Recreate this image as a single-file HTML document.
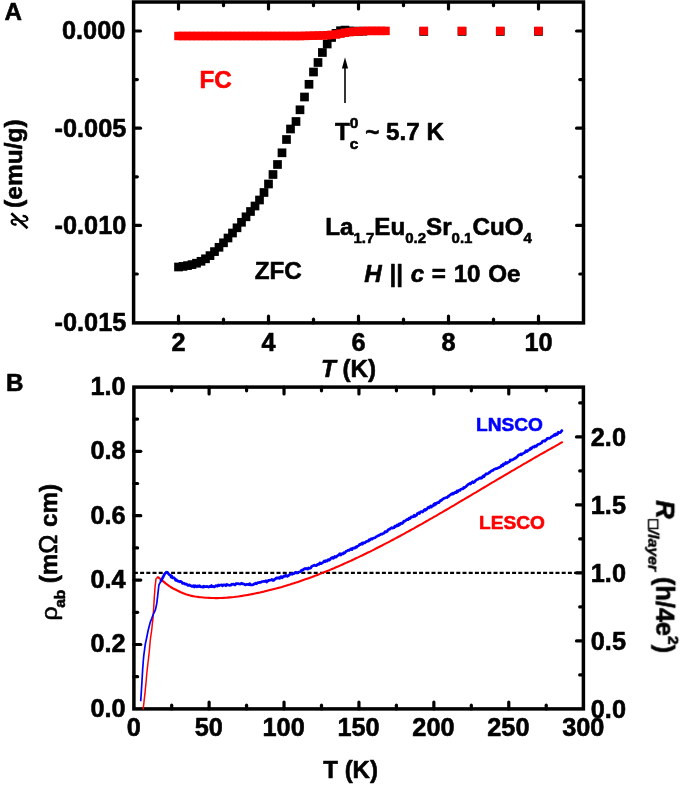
<!DOCTYPE html>
<html><head><meta charset="utf-8"><title>Figure</title>
<style>html,body{margin:0;padding:0;background:#fff;}svg{display:block;}text{font-family:"Liberation Sans",sans-serif;stroke-width:0.6px;stroke-linejoin:round;}</style></head><body>
<svg width="680" height="785" viewBox="0 0 680 785" role="img" aria-label="Susceptibility and resistivity figure">
<rect x="0" y="0" width="680" height="785" fill="#fff"/>
<g opacity="0.9999">
<g fill="#000"><rect x="174.15" y="262.65" width="8.7" height="8.7"/><rect x="178.65" y="262.05" width="8.7" height="8.7"/><rect x="183.15" y="261.25" width="8.7" height="8.7"/><rect x="187.65" y="260.25" width="8.7" height="8.7"/><rect x="192.15" y="258.85" width="8.7" height="8.7"/><rect x="196.65" y="256.95" width="8.7" height="8.7"/><rect x="201.15" y="254.45" width="8.7" height="8.7"/><rect x="205.65" y="251.25" width="8.7" height="8.7"/><rect x="210.15" y="247.25" width="8.7" height="8.7"/><rect x="214.65" y="242.95" width="8.7" height="8.7"/><rect x="219.15" y="238.45" width="8.7" height="8.7"/><rect x="223.65" y="233.65" width="8.7" height="8.7"/><rect x="228.15" y="228.65" width="8.7" height="8.7"/><rect x="232.65" y="223.45" width="8.7" height="8.7"/><rect x="237.15" y="217.95" width="8.7" height="8.7"/><rect x="241.65" y="212.45" width="8.7" height="8.7"/><rect x="246.15" y="207.15" width="8.7" height="8.7"/><rect x="250.65" y="201.65" width="8.7" height="8.7"/><rect x="255.15" y="195.65" width="8.7" height="8.7"/><rect x="259.65" y="188.15" width="8.7" height="8.7"/><rect x="264.15" y="179.65" width="8.7" height="8.7"/><rect x="268.65" y="170.15" width="8.7" height="8.7"/><rect x="273.15" y="160.15" width="8.7" height="8.7"/><rect x="277.65" y="148.45" width="8.7" height="8.7"/><rect x="282.15" y="135.15" width="8.7" height="8.7"/><rect x="286.15" y="124.65" width="8.7" height="8.7"/><rect x="291.65" y="117.15" width="8.7" height="8.7"/><rect x="295.65" y="105.45" width="8.7" height="8.7"/><rect x="300.15" y="92.65" width="8.7" height="8.7"/><rect x="304.65" y="79.95" width="8.7" height="8.7"/><rect x="309.15" y="67.65" width="8.7" height="8.7"/><rect x="313.65" y="58.15" width="8.7" height="8.7"/><rect x="318.05" y="48.15" width="8.7" height="8.7"/><rect x="322.85" y="39.65" width="8.7" height="8.7"/><rect x="327.25" y="33.15" width="8.7" height="8.7"/><rect x="331.65" y="29.05" width="8.7" height="8.7"/><rect x="336.15" y="26.35" width="8.7" height="8.7"/><rect x="340.65" y="25.75" width="8.7" height="8.7"/><rect x="345.15" y="26.65" width="8.7" height="8.7"/><rect x="349.65" y="26.85" width="8.7" height="8.7"/><rect x="354.15" y="26.85" width="8.7" height="8.7"/><rect x="358.65" y="26.85" width="8.7" height="8.7"/><rect x="419.40" y="27.10" width="8.7" height="8.7"/><rect x="457.65" y="27.10" width="8.7" height="8.7"/><rect x="495.90" y="27.10" width="8.7" height="8.7"/><rect x="534.15" y="27.10" width="8.7" height="8.7"/></g>
<g fill="#ff0000"><rect x="174.25" y="31.75" width="8.5" height="8.5"/><rect x="178.75" y="31.75" width="8.5" height="8.5"/><rect x="183.25" y="31.75" width="8.5" height="8.5"/><rect x="187.75" y="31.75" width="8.5" height="8.5"/><rect x="192.25" y="31.75" width="8.5" height="8.5"/><rect x="196.75" y="31.75" width="8.5" height="8.5"/><rect x="201.25" y="31.75" width="8.5" height="8.5"/><rect x="205.75" y="31.75" width="8.5" height="8.5"/><rect x="210.25" y="31.75" width="8.5" height="8.5"/><rect x="214.75" y="31.75" width="8.5" height="8.5"/><rect x="219.25" y="31.75" width="8.5" height="8.5"/><rect x="223.75" y="31.75" width="8.5" height="8.5"/><rect x="228.25" y="31.75" width="8.5" height="8.5"/><rect x="232.75" y="31.75" width="8.5" height="8.5"/><rect x="237.25" y="31.75" width="8.5" height="8.5"/><rect x="241.75" y="31.75" width="8.5" height="8.5"/><rect x="246.25" y="31.75" width="8.5" height="8.5"/><rect x="250.75" y="31.75" width="8.5" height="8.5"/><rect x="255.25" y="31.75" width="8.5" height="8.5"/><rect x="259.75" y="31.75" width="8.5" height="8.5"/><rect x="264.25" y="31.75" width="8.5" height="8.5"/><rect x="268.75" y="31.75" width="8.5" height="8.5"/><rect x="273.25" y="31.75" width="8.5" height="8.5"/><rect x="277.75" y="31.75" width="8.5" height="8.5"/><rect x="282.25" y="31.75" width="8.5" height="8.5"/><rect x="286.75" y="31.75" width="8.5" height="8.5"/><rect x="291.25" y="31.75" width="8.5" height="8.5"/><rect x="295.75" y="31.75" width="8.5" height="8.5"/><rect x="300.25" y="31.64" width="8.5" height="8.5"/><rect x="304.75" y="31.53" width="8.5" height="8.5"/><rect x="309.25" y="31.42" width="8.5" height="8.5"/><rect x="313.75" y="31.31" width="8.5" height="8.5"/><rect x="318.25" y="31.20" width="8.5" height="8.5"/><rect x="322.75" y="30.97" width="8.5" height="8.5"/><rect x="327.25" y="30.61" width="8.5" height="8.5"/><rect x="331.75" y="30.25" width="8.5" height="8.5"/><rect x="336.25" y="29.38" width="8.5" height="8.5"/><rect x="340.75" y="28.50" width="8.5" height="8.5"/><rect x="345.25" y="27.86" width="8.5" height="8.5"/><rect x="349.75" y="27.39" width="8.5" height="8.5"/><rect x="354.25" y="27.05" width="8.5" height="8.5"/><rect x="358.75" y="26.85" width="8.5" height="8.5"/><rect x="363.25" y="26.65" width="8.5" height="8.5"/><rect x="367.75" y="26.65" width="8.5" height="8.5"/><rect x="372.25" y="26.65" width="8.5" height="8.5"/><rect x="376.75" y="26.65" width="8.5" height="8.5"/><rect x="381.25" y="26.65" width="8.5" height="8.5"/><rect x="419.50" y="26.65" width="8.5" height="8.5"/><rect x="457.75" y="26.65" width="8.5" height="8.5"/><rect x="496.00" y="26.65" width="8.5" height="8.5"/><rect x="534.25" y="26.65" width="8.5" height="8.5"/></g>
<rect x="133.6" y="2.0" width="449.9" height="320.9" fill="none" stroke="#000" stroke-width="3.5"/>
<line x1="178.50" y1="322.90" x2="178.50" y2="316.00" stroke="#000" stroke-width="3.2" stroke-linecap="round"/>
<line x1="178.50" y1="2.00" x2="178.50" y2="8.90" stroke="#000" stroke-width="3.2" stroke-linecap="round"/>
<line x1="223.50" y1="322.90" x2="223.50" y2="319.20" stroke="#000" stroke-width="3.2" stroke-linecap="round"/>
<line x1="223.50" y1="2.00" x2="223.50" y2="5.70" stroke="#000" stroke-width="3.2" stroke-linecap="round"/>
<line x1="268.50" y1="322.90" x2="268.50" y2="316.00" stroke="#000" stroke-width="3.2" stroke-linecap="round"/>
<line x1="268.50" y1="2.00" x2="268.50" y2="8.90" stroke="#000" stroke-width="3.2" stroke-linecap="round"/>
<line x1="313.50" y1="322.90" x2="313.50" y2="319.20" stroke="#000" stroke-width="3.2" stroke-linecap="round"/>
<line x1="313.50" y1="2.00" x2="313.50" y2="5.70" stroke="#000" stroke-width="3.2" stroke-linecap="round"/>
<line x1="358.50" y1="322.90" x2="358.50" y2="316.00" stroke="#000" stroke-width="3.2" stroke-linecap="round"/>
<line x1="358.50" y1="2.00" x2="358.50" y2="8.90" stroke="#000" stroke-width="3.2" stroke-linecap="round"/>
<line x1="403.50" y1="322.90" x2="403.50" y2="319.20" stroke="#000" stroke-width="3.2" stroke-linecap="round"/>
<line x1="403.50" y1="2.00" x2="403.50" y2="5.70" stroke="#000" stroke-width="3.2" stroke-linecap="round"/>
<line x1="448.50" y1="322.90" x2="448.50" y2="316.00" stroke="#000" stroke-width="3.2" stroke-linecap="round"/>
<line x1="448.50" y1="2.00" x2="448.50" y2="8.90" stroke="#000" stroke-width="3.2" stroke-linecap="round"/>
<line x1="493.50" y1="322.90" x2="493.50" y2="319.20" stroke="#000" stroke-width="3.2" stroke-linecap="round"/>
<line x1="493.50" y1="2.00" x2="493.50" y2="5.70" stroke="#000" stroke-width="3.2" stroke-linecap="round"/>
<line x1="538.50" y1="322.90" x2="538.50" y2="316.00" stroke="#000" stroke-width="3.2" stroke-linecap="round"/>
<line x1="538.50" y1="2.00" x2="538.50" y2="8.90" stroke="#000" stroke-width="3.2" stroke-linecap="round"/>
<line x1="133.60" y1="31.00" x2="140.50" y2="31.00" stroke="#000" stroke-width="3.2" stroke-linecap="round"/>
<line x1="583.50" y1="31.00" x2="576.60" y2="31.00" stroke="#000" stroke-width="3.2" stroke-linecap="round"/>
<line x1="133.60" y1="79.60" x2="137.30" y2="79.60" stroke="#000" stroke-width="3.2" stroke-linecap="round"/>
<line x1="583.50" y1="79.60" x2="579.80" y2="79.60" stroke="#000" stroke-width="3.2" stroke-linecap="round"/>
<line x1="133.60" y1="128.20" x2="140.50" y2="128.20" stroke="#000" stroke-width="3.2" stroke-linecap="round"/>
<line x1="583.50" y1="128.20" x2="576.60" y2="128.20" stroke="#000" stroke-width="3.2" stroke-linecap="round"/>
<line x1="133.60" y1="176.80" x2="137.30" y2="176.80" stroke="#000" stroke-width="3.2" stroke-linecap="round"/>
<line x1="583.50" y1="176.80" x2="579.80" y2="176.80" stroke="#000" stroke-width="3.2" stroke-linecap="round"/>
<line x1="133.60" y1="225.40" x2="140.50" y2="225.40" stroke="#000" stroke-width="3.2" stroke-linecap="round"/>
<line x1="583.50" y1="225.40" x2="576.60" y2="225.40" stroke="#000" stroke-width="3.2" stroke-linecap="round"/>
<line x1="133.60" y1="274.00" x2="137.30" y2="274.00" stroke="#000" stroke-width="3.2" stroke-linecap="round"/>
<line x1="583.50" y1="274.00" x2="579.80" y2="274.00" stroke="#000" stroke-width="3.2" stroke-linecap="round"/>
<text x="178.50" y="350.50" font-family='"Liberation Sans", sans-serif' font-size="25.3" font-weight="bold" font-style="normal" text-anchor="middle" fill="#000" stroke="#000" >2</text>
<text x="268.50" y="350.50" font-family='"Liberation Sans", sans-serif' font-size="25.3" font-weight="bold" font-style="normal" text-anchor="middle" fill="#000" stroke="#000" >4</text>
<text x="358.50" y="350.50" font-family='"Liberation Sans", sans-serif' font-size="25.3" font-weight="bold" font-style="normal" text-anchor="middle" fill="#000" stroke="#000" >6</text>
<text x="448.50" y="350.50" font-family='"Liberation Sans", sans-serif' font-size="25.3" font-weight="bold" font-style="normal" text-anchor="middle" fill="#000" stroke="#000" >8</text>
<text x="538.50" y="350.50" font-family='"Liberation Sans", sans-serif' font-size="25.3" font-weight="bold" font-style="normal" text-anchor="middle" fill="#000" stroke="#000" >10</text>
<text x="125.30" y="38.70" font-family='"Liberation Sans", sans-serif' font-size="25.3" font-weight="bold" font-style="normal" text-anchor="end" fill="#000" stroke="#000" >0.000</text>
<text x="126.30" y="136.60" font-family='"Liberation Sans", sans-serif' font-size="25.3" font-weight="bold" font-style="normal" text-anchor="end" fill="#000" stroke="#000" >-0.005</text>
<text x="126.30" y="233.80" font-family='"Liberation Sans", sans-serif' font-size="25.3" font-weight="bold" font-style="normal" text-anchor="end" fill="#000" stroke="#000" >-0.010</text>
<text x="126.30" y="331.00" font-family='"Liberation Sans", sans-serif' font-size="25.3" font-weight="bold" font-style="normal" text-anchor="end" fill="#000" stroke="#000" >-0.015</text>
<text x="4.40" y="20.40" font-family='"Liberation Sans", sans-serif' font-size="24.2" font-weight="bold" font-style="normal" text-anchor="start" fill="#000" stroke="#000" >A</text>
<text x="199.50" y="87.60" font-family='"Liberation Sans", sans-serif' font-size="24.2" font-weight="bold" font-style="normal" text-anchor="start" fill="#ff0000" stroke="#ff0000" >FC</text>
<text x="254.80" y="278.60" font-family='"Liberation Sans", sans-serif' font-size="24.2" font-weight="bold" font-style="normal" text-anchor="start" fill="#000" stroke="#000" >ZFC</text>
<line x1="345.00" y1="103.00" x2="345.00" y2="64.00" stroke="#000" stroke-width="1.6" />
<path d="M345 57.2 L348.1 68.5 L341.9 68.5 Z" fill="#000"/>
<text x="335.0" y="140.2" font-size="24.2" font-weight="bold" fill="#000" stroke="#000" word-spacing="0.1">T<tspan font-size="15.5" dy="-12.6">0</tspan><tspan font-size="15.5" dx="-8.7" dy="21.4">c</tspan><tspan dy="-8.8"> ~ 5.7 K</tspan></text>
<text x="325.2" y="235.4" font-size="24.2" font-weight="bold" fill="#000" stroke="#000">La<tspan font-size="15" dy="7.6">1.7</tspan><tspan dy="-7.6">Eu</tspan><tspan font-size="15" dy="7.6">0.2</tspan><tspan dy="-7.6">Sr</tspan><tspan font-size="15" dy="7.6">0.1</tspan><tspan dy="-7.6">CuO</tspan><tspan font-size="15" dy="7.6">4</tspan></text>
<text x="364.2" y="282.0" font-size="24.2" font-weight="bold" fill="#000" stroke="#000" word-spacing="1.0"><tspan font-style="italic">H</tspan> || <tspan font-style="italic">c</tspan> = 10 Oe</text>
<text x="320.9" y="376.5" font-size="24.2" font-weight="bold" fill="#000" stroke="#000"><tspan font-style="italic">T</tspan> (K)</text>
<g transform="translate(22.3,207.9) rotate(-90)"><text x="0" y="0" font-size="24.5" font-weight="bold" fill="#000" stroke="#000" text-anchor="start">(emu/g)</text></g>
<g><title>χ</title>
<path d="M11.3 213.3 L27.5 228.3" stroke="#000" stroke-width="2.7" fill="none"/>
<path d="M15.6 224.5 C13.2 225.0 10.8 222.6 11.9 220.6 C12.9 218.9 15.2 219.5 19.4 220.6 C23.2 221.6 26.3 221.9 27.2 219.8 C28.0 217.9 26.0 216.3 23.6 216.0" stroke="#000" stroke-width="1.5" stroke-linecap="round" fill="none"/>
<path d="M15.6 224.5 C13.2 225.0 10.8 222.6 11.9 220.6" stroke="#000" stroke-width="2.3" stroke-linecap="round" fill="none"/>
<path d="M27.2 219.8 C28.0 217.9 26.0 216.3 23.6 216.0" stroke="#000" stroke-width="2.3" stroke-linecap="round" fill="none"/>
</g>
<line x1="133.90" y1="572.90" x2="583.40" y2="572.90" stroke="#000" stroke-width="2.2" stroke-dasharray="4 2.2"/>
<rect x="133.9" y="387.1" width="449.5" height="321.79999999999995" fill="none" stroke="#000" stroke-width="3.5"/>
<line x1="171.66" y1="708.90" x2="171.66" y2="705.20" stroke="#000" stroke-width="3.2" stroke-linecap="round"/>
<line x1="171.66" y1="387.10" x2="171.66" y2="390.80" stroke="#000" stroke-width="3.2" stroke-linecap="round"/>
<line x1="209.11" y1="708.90" x2="209.11" y2="702.00" stroke="#000" stroke-width="3.2" stroke-linecap="round"/>
<line x1="209.11" y1="387.10" x2="209.11" y2="394.00" stroke="#000" stroke-width="3.2" stroke-linecap="round"/>
<line x1="246.57" y1="708.90" x2="246.57" y2="705.20" stroke="#000" stroke-width="3.2" stroke-linecap="round"/>
<line x1="246.57" y1="387.10" x2="246.57" y2="390.80" stroke="#000" stroke-width="3.2" stroke-linecap="round"/>
<line x1="284.03" y1="708.90" x2="284.03" y2="702.00" stroke="#000" stroke-width="3.2" stroke-linecap="round"/>
<line x1="284.03" y1="387.10" x2="284.03" y2="394.00" stroke="#000" stroke-width="3.2" stroke-linecap="round"/>
<line x1="321.49" y1="708.90" x2="321.49" y2="705.20" stroke="#000" stroke-width="3.2" stroke-linecap="round"/>
<line x1="321.49" y1="387.10" x2="321.49" y2="390.80" stroke="#000" stroke-width="3.2" stroke-linecap="round"/>
<line x1="358.94" y1="708.90" x2="358.94" y2="702.00" stroke="#000" stroke-width="3.2" stroke-linecap="round"/>
<line x1="358.94" y1="387.10" x2="358.94" y2="394.00" stroke="#000" stroke-width="3.2" stroke-linecap="round"/>
<line x1="396.40" y1="708.90" x2="396.40" y2="705.20" stroke="#000" stroke-width="3.2" stroke-linecap="round"/>
<line x1="396.40" y1="387.10" x2="396.40" y2="390.80" stroke="#000" stroke-width="3.2" stroke-linecap="round"/>
<line x1="433.86" y1="708.90" x2="433.86" y2="702.00" stroke="#000" stroke-width="3.2" stroke-linecap="round"/>
<line x1="433.86" y1="387.10" x2="433.86" y2="394.00" stroke="#000" stroke-width="3.2" stroke-linecap="round"/>
<line x1="471.32" y1="708.90" x2="471.32" y2="705.20" stroke="#000" stroke-width="3.2" stroke-linecap="round"/>
<line x1="471.32" y1="387.10" x2="471.32" y2="390.80" stroke="#000" stroke-width="3.2" stroke-linecap="round"/>
<line x1="508.77" y1="708.90" x2="508.77" y2="702.00" stroke="#000" stroke-width="3.2" stroke-linecap="round"/>
<line x1="508.77" y1="387.10" x2="508.77" y2="394.00" stroke="#000" stroke-width="3.2" stroke-linecap="round"/>
<line x1="546.23" y1="708.90" x2="546.23" y2="705.20" stroke="#000" stroke-width="3.2" stroke-linecap="round"/>
<line x1="546.23" y1="387.10" x2="546.23" y2="390.80" stroke="#000" stroke-width="3.2" stroke-linecap="round"/>
<line x1="133.90" y1="676.70" x2="137.60" y2="676.70" stroke="#000" stroke-width="3.2" stroke-linecap="round"/>
<line x1="133.90" y1="644.50" x2="140.80" y2="644.50" stroke="#000" stroke-width="3.2" stroke-linecap="round"/>
<line x1="133.90" y1="612.30" x2="137.60" y2="612.30" stroke="#000" stroke-width="3.2" stroke-linecap="round"/>
<line x1="133.90" y1="580.10" x2="140.80" y2="580.10" stroke="#000" stroke-width="3.2" stroke-linecap="round"/>
<line x1="133.90" y1="547.90" x2="137.60" y2="547.90" stroke="#000" stroke-width="3.2" stroke-linecap="round"/>
<line x1="133.90" y1="515.70" x2="140.80" y2="515.70" stroke="#000" stroke-width="3.2" stroke-linecap="round"/>
<line x1="133.90" y1="483.50" x2="137.60" y2="483.50" stroke="#000" stroke-width="3.2" stroke-linecap="round"/>
<line x1="133.90" y1="451.30" x2="140.80" y2="451.30" stroke="#000" stroke-width="3.2" stroke-linecap="round"/>
<line x1="133.90" y1="419.10" x2="137.60" y2="419.10" stroke="#000" stroke-width="3.2" stroke-linecap="round"/>
<line x1="583.40" y1="674.90" x2="579.70" y2="674.90" stroke="#000" stroke-width="3.2" stroke-linecap="round"/>
<line x1="583.40" y1="640.90" x2="576.50" y2="640.90" stroke="#000" stroke-width="3.2" stroke-linecap="round"/>
<line x1="583.40" y1="606.90" x2="579.70" y2="606.90" stroke="#000" stroke-width="3.2" stroke-linecap="round"/>
<line x1="583.40" y1="572.90" x2="576.50" y2="572.90" stroke="#000" stroke-width="3.2" stroke-linecap="round"/>
<line x1="583.40" y1="538.90" x2="579.70" y2="538.90" stroke="#000" stroke-width="3.2" stroke-linecap="round"/>
<line x1="583.40" y1="504.90" x2="576.50" y2="504.90" stroke="#000" stroke-width="3.2" stroke-linecap="round"/>
<line x1="583.40" y1="470.90" x2="579.70" y2="470.90" stroke="#000" stroke-width="3.2" stroke-linecap="round"/>
<line x1="583.40" y1="436.90" x2="576.50" y2="436.90" stroke="#000" stroke-width="3.2" stroke-linecap="round"/>
<line x1="583.40" y1="402.90" x2="579.70" y2="402.90" stroke="#000" stroke-width="3.2" stroke-linecap="round"/>
<path d="M143.2 709.4 L143.5 706.2 L143.9 702.9 L144.2 699.7 L144.6 696.5 L145.0 693.2 L145.3 690.0 L145.6 686.9 L145.9 683.9 L146.2 680.8 L146.4 677.8 L146.7 674.7 L147.0 671.7 L147.3 668.6 L147.7 665.5 L148.0 662.5 L148.4 659.5 L148.7 656.4 L149.1 653.3 L149.4 650.3 L149.7 646.9 L150.0 643.4 L150.3 640.0 L150.8 636.4 L151.3 632.9 L151.8 629.3 L152.1 626.2 L152.4 623.1 L152.8 620.1 L153.1 617.0 L153.3 613.3 L153.6 609.5 L153.8 605.8 L154.0 602.4 L154.2 599.1 L154.4 595.7 L154.7 592.3 L154.9 588.9 L155.2 585.5 L155.6 582.5 L155.9 579.4 L156.9 577.5" fill="none" stroke="#ff0000" stroke-width="1.5" stroke-linejoin="round"/>
<path d="M156.9 577.5 L157.9 577.3 L158.9 577.8 L161.5 579.9 L163.6 581.6 L165.6 583.4 L167.3 584.6 L169.0 585.8 L170.7 587.0 L173.2 588.5 L175.9 589.8 L178.3 591.0 L180.8 592.2 L183.3 593.3 L185.8 594.2 L188.2 594.9 L190.5 595.6 L192.8 596.1 L195.0 596.5 L197.1 596.8 L199.2 597.1 L201.2 597.3 L203.3 597.5 L205.4 597.7 L207.4 597.8 L209.5 597.9 L211.5 598.0 L213.5 598.0 L215.6 598.1 L217.6 598.1 L219.7 598.0 L221.7 598.0 L223.7 597.9 L225.8 597.8 L227.8 597.6 L229.9 597.4 L231.9 597.2 L233.9 597.0 L235.9 596.7 L238.0 596.5 L240.0 596.2 L242.0 595.9 L244.0 595.5 L246.0 595.2 L248.0 594.9 L250.0 594.5 L252.0 594.1 L254.0 593.7 L256.0 593.3 L258.0 592.9 L260.0 592.5 L262.0 592.0 L264.0 591.6 L266.0 591.1 L268.0 590.6 L270.0 590.1 L272.0 589.6 L274.0 589.1 L276.0 588.6 L278.0 588.0 L280.0 587.4 L282.0 586.9 L284.0 586.3 L286.0 585.7 L288.0 585.1 L290.0 584.5 L292.0 583.8 L294.0 583.2 L296.0 582.6 L298.0 581.9 L300.0 581.2 L302.0 580.5 L304.0 579.8 L306.0 579.1 L308.0 578.4 L310.0 577.7 L312.0 577.0 L314.0 576.2 L316.0 575.4 L318.0 574.7 L320.0 573.9 L322.0 573.1 L324.0 572.3 L326.0 571.5 L328.0 570.7 L330.0 569.9 L332.0 569.0 L334.0 568.2 L336.0 567.3 L338.0 566.5 L340.0 565.6 L342.0 564.7 L344.0 563.8 L346.0 562.9 L348.0 562.0 L350.0 561.1 L352.0 560.2 L354.0 559.3 L356.0 558.3 L358.0 557.4 L360.0 556.4 L362.0 555.5 L364.0 554.5 L366.0 553.5 L368.0 552.5 L370.0 551.6 L372.0 550.6 L374.0 549.6 L376.0 548.5 L378.0 547.5 L380.0 546.5 L382.0 545.5 L384.0 544.4 L386.0 543.4 L388.0 542.4 L390.0 541.3 L392.0 540.2 L394.0 539.2 L396.0 538.1 L398.0 537.0 L400.0 536.0 L402.0 534.9 L404.0 533.8 L406.0 532.7 L408.0 531.6 L410.0 530.5 L412.0 529.4 L414.0 528.3 L416.0 527.1 L418.0 526.0 L420.0 524.9 L422.0 523.8 L424.0 522.6 L426.0 521.5 L428.0 520.4 L430.0 519.2 L432.0 518.1 L434.0 516.9 L436.0 515.8 L438.0 514.6 L440.0 513.4 L442.0 512.3 L444.0 511.1 L446.0 510.0 L448.0 508.8 L450.0 507.6 L452.0 506.4 L454.0 505.3 L456.0 504.1 L458.0 502.9 L460.0 501.7 L462.0 500.5 L464.0 499.4 L466.0 498.2 L468.0 497.0 L470.0 495.8 L472.0 494.6 L474.0 493.4 L476.0 492.3 L478.0 491.1 L480.0 489.9 L482.0 488.7 L484.0 487.5 L486.0 486.3 L488.0 485.1 L490.0 483.9 L492.0 482.7 L494.0 481.6 L496.0 480.4 L498.0 479.2 L500.0 478.0 L502.0 476.8 L504.0 475.6 L506.0 474.5 L508.0 473.3 L510.0 472.1 L512.0 470.9 L514.0 469.8 L516.0 468.6 L518.0 467.4 L520.0 466.3 L522.0 465.1 L524.0 463.9 L526.0 462.8 L528.0 461.6 L530.0 460.5 L532.0 459.3 L534.0 458.2 L536.0 457.0 L538.0 455.9 L540.0 454.7 L542.0 453.6 L544.0 452.5 L546.0 451.4 L548.0 450.2 L550.0 449.1 L552.0 448.0 L554.1 446.9 L556.2 445.7 L558.0 444.7 L560.4 443.2 L562.8 441.8" fill="none" stroke="#ff0000" stroke-width="2.1" stroke-linejoin="round"/>
<path d="M140.7 701.2 L140.9 698.1 L141.1 695.1 L141.3 692.0 L141.5 689.0 L141.7 685.9 L141.9 682.4 L142.1 679.0 L142.3 675.5 L142.5 672.1 L142.7 668.6 L143.0 665.3 L143.2 662.0 L143.5 658.7 L143.8 655.4 L144.3 651.7 L144.8 647.9 L145.3 644.2 L146.2 640.0 L146.9 636.8 L147.5 633.5 L148.2 630.3 L149.2 626.2 L150.3 622.1 L151.6 618.8 L152.8 615.5 L154.1 612.7 L155.4 609.9 L156.2 606.3 L156.9 602.8 L157.2 599.7 L157.6 596.7 L157.9 593.6 L158.4 589.3 L158.9 585.0 L160.5 581.9" fill="none" stroke="#0000ff" stroke-width="1.7" stroke-linejoin="round"/>
<path d="M160.5 581.8 L160.9 581.0 L161.3 580.5 L161.7 579.5 L162.1 579.0 L162.5 578.2 L162.9 577.3 L163.3 576.7 L163.7 575.7 L164.1 575.1 L164.5 574.1 L165.2 573.3 L165.9 572.7 L166.6 572.2 L167.3 572.4 L167.9 573.1 L168.6 573.9 L169.2 574.6 L169.8 575.0 L170.5 575.4 L171.1 577.0 L171.7 576.0 L172.4 577.9 L173.0 577.5 L173.7 577.7 L174.4 578.2 L175.0 579.1 L175.7 580.4 L176.4 579.7 L177.2 580.8 L177.9 581.2 L178.7 581.1 L179.4 581.8 L180.2 581.3 L181.0 581.6 L181.8 582.2 L182.6 583.4 L183.4 583.2 L184.2 583.4 L185.1 584.1 L185.9 584.2 L186.8 584.2 L187.6 585.3 L188.4 585.4 L189.3 584.8 L190.1 585.6 L190.9 585.7 L191.8 586.4 L192.6 586.3 L193.4 585.7 L194.3 587.0 L195.1 585.6 L196.0 586.2 L196.9 586.8 L197.7 585.9 L198.6 586.5 L199.5 585.7 L200.4 586.8 L201.2 587.0 L202.1 586.7 L203.0 587.2 L203.8 586.2 L204.7 586.8 L205.6 586.6 L206.4 586.6 L207.2 586.4 L208.1 587.0 L208.9 587.1 L209.8 586.3 L210.7 586.6 L211.5 585.5 L212.3 586.6 L213.2 586.4 L214.1 587.0 L214.9 586.6 L215.8 585.6 L216.6 585.8 L217.4 586.2 L218.3 585.0 L219.2 585.7 L220.0 585.1 L220.8 585.0 L221.7 584.8 L222.5 585.9 L223.4 584.8 L224.2 584.9 L225.1 585.0 L225.9 585.8 L226.8 584.3 L227.7 584.9 L228.5 585.0 L229.3 585.4 L230.2 585.2 L231.0 585.2 L231.8 584.2 L232.7 584.3 L233.5 584.1 L234.3 584.9 L235.1 585.0 L235.9 583.6 L236.8 583.5 L237.6 583.6 L238.4 583.6 L239.2 584.0 L240.1 584.1 L240.9 583.6 L241.8 583.2 L242.6 583.9 L243.5 583.9 L244.4 584.3 L245.3 585.0 L246.1 584.6 L247.0 584.3 L247.9 584.5 L248.8 584.7 L249.7 583.6 L250.5 585.0 L251.4 584.8 L252.3 584.9 L253.1 584.7 L254.0 583.9 L254.8 583.8 L255.7 583.1 L256.5 583.9 L257.4 582.7 L258.2 582.5 L259.0 582.6 L259.9 582.3 L260.7 582.4 L261.6 581.8 L262.4 581.5 L263.3 581.5 L264.1 581.3 L265.0 581.5 L265.9 580.7 L266.7 582.0 L267.6 581.3 L268.4 580.3 L269.3 580.3 L270.1 580.2 L271.0 580.0 L271.9 579.4 L272.7 580.4 L273.6 580.4 L274.4 579.3 L275.3 579.1 L276.1 578.1 L277.0 577.9 L277.9 578.1 L278.7 577.7 L279.6 578.4 L280.4 577.0 L281.3 576.6 L282.1 577.9 L283.0 576.9 L283.9 576.0 L284.7 576.4 L285.6 575.2 L286.4 575.8 L287.3 576.3 L288.1 575.8 L289.0 575.3 L289.9 574.3 L290.7 574.2 L291.6 573.5 L292.4 574.3 L293.3 573.6 L294.1 573.7 L295.0 572.6 L295.9 572.2 L296.7 572.9 L297.6 572.9 L298.4 572.3 L299.2 572.0 L300.0 571.7 L300.9 571.3 L301.7 570.1 L302.4 570.3 L303.2 569.8 L304.0 568.9 L304.8 568.6 L305.5 568.8 L306.2 568.4 L307.0 568.9 L307.8 569.1 L308.5 567.9 L309.2 568.5 L310.0 568.2 L310.8 567.9 L311.5 566.6 L312.2 566.1 L313.0 565.8 L313.8 565.4 L314.5 565.1 L315.2 565.5 L316.0 565.7 L316.8 565.3 L317.5 564.4 L318.2 564.4 L319.0 564.3 L319.8 562.8 L320.5 563.4 L321.2 563.6 L322.0 563.0 L322.8 562.6 L323.5 561.9 L324.2 561.0 L325.0 561.8 L325.8 560.7 L326.5 561.1 L327.2 561.1 L328.0 559.8 L328.8 559.5 L329.5 560.1 L330.2 559.4 L331.0 558.1 L331.8 557.7 L332.5 557.4 L333.2 558.3 L334.0 557.8 L334.8 556.4 L335.5 557.2 L336.2 557.1 L337.0 556.2 L337.8 555.3 L338.5 555.3 L339.2 554.3 L340.0 553.7 L340.8 555.0 L341.5 554.1 L342.2 553.6 L343.0 553.9 L343.8 552.7 L344.5 553.1 L345.2 552.7 L346.0 551.3 L346.8 551.0 L347.5 550.7 L348.2 550.2 L349.0 550.5 L349.8 549.6 L350.5 549.5 L351.2 548.6 L352.0 549.6 L352.8 548.3 L353.5 548.1 L354.2 547.9 L355.0 548.1 L355.8 546.9 L356.5 547.4 L357.2 546.3 L358.0 546.0 L358.8 545.6 L359.5 544.4 L360.2 544.7 L361.0 543.9 L361.8 543.2 L362.5 544.2 L363.2 542.7 L364.0 542.9 L364.8 542.9 L365.5 542.3 L366.2 541.5 L367.0 541.4 L367.8 541.1 L368.5 541.1 L369.2 539.6 L370.0 540.0 L370.8 539.0 L371.5 538.7 L372.2 539.2 L373.0 538.3 L373.8 538.0 L374.5 538.0 L375.2 537.8 L376.0 536.7 L376.8 536.5 L377.5 536.0 L378.2 535.6 L379.0 535.5 L379.8 534.7 L380.5 534.4 L381.2 534.0 L382.0 534.3 L382.8 533.5 L383.5 533.4 L384.2 533.1 L385.0 531.6 L385.8 531.7 L386.5 531.9 L387.2 531.4 L388.0 529.8 L388.8 529.3 L389.5 529.5 L390.2 528.5 L391.0 528.3 L391.8 527.6 L392.5 528.2 L393.2 528.0 L394.0 527.8 L394.8 526.2 L395.5 526.7 L396.2 526.2 L397.0 524.9 L397.8 525.8 L398.5 525.5 L399.2 523.8 L400.0 524.6 L400.8 523.3 L401.5 523.0 L402.2 523.5 L403.0 522.8 L403.8 521.2 L404.5 521.3 L405.2 521.0 L406.0 520.3 L406.8 519.6 L407.5 519.4 L408.2 519.7 L409.0 518.1 L409.8 518.6 L410.5 518.0 L411.2 516.8 L412.0 516.9 L412.8 517.0 L413.5 516.4 L414.2 515.2 L415.0 516.4 L415.8 515.6 L416.5 515.5 L417.2 513.6 L418.0 513.5 L418.8 512.7 L419.5 513.5 L420.2 512.2 L421.0 511.5 L421.8 511.6 L422.5 512.0 L423.2 511.4 L424.0 510.1 L424.8 509.4 L425.5 510.3 L426.2 509.3 L427.0 509.1 L427.8 507.6 L428.5 507.2 L429.2 507.8 L430.0 506.9 L430.8 505.9 L431.5 507.0 L432.2 506.0 L433.0 505.9 L433.8 504.2 L434.5 505.1 L435.2 503.3 L436.0 504.3 L436.8 503.1 L437.5 502.5 L438.2 502.4 L439.0 502.6 L439.8 501.1 L440.5 500.4 L441.2 500.7 L442.0 499.8 L442.8 499.1 L443.5 498.8 L444.2 498.1 L445.0 498.0 L445.8 497.7 L446.5 497.3 L447.2 497.6 L448.0 496.4 L448.8 496.3 L449.5 495.3 L450.2 495.2 L451.0 494.2 L451.8 494.2 L452.5 493.3 L453.2 494.1 L454.0 493.4 L454.8 492.3 L455.5 492.4 L456.2 492.7 L457.0 490.9 L457.8 491.7 L458.5 490.6 L459.2 490.2 L460.0 490.4 L460.8 489.2 L461.5 489.0 L462.2 488.8 L463.0 488.9 L463.8 487.4 L464.5 487.8 L465.2 487.1 L466.0 486.6 L466.8 485.7 L467.5 485.2 L468.2 484.3 L469.0 484.0 L469.8 483.4 L470.5 484.1 L471.2 482.9 L472.0 482.3 L472.8 481.7 L473.5 482.6 L474.2 482.2 L475.0 481.4 L475.8 480.3 L476.5 479.8 L477.2 479.5 L478.0 479.3 L478.8 478.4 L479.5 478.4 L480.2 477.7 L481.0 478.4 L481.8 478.0 L482.5 476.8 L483.2 475.9 L484.0 476.7 L484.8 475.1 L485.5 474.8 L486.2 473.7 L487.0 473.9 L487.8 473.7 L488.5 473.3 L489.2 472.3 L490.0 472.4 L490.8 471.1 L491.5 471.1 L492.2 470.4 L493.0 470.5 L493.8 469.5 L494.5 469.0 L495.2 469.0 L496.0 468.5 L496.8 468.6 L497.5 468.1 L498.2 468.0 L499.0 467.5 L499.8 467.1 L500.5 467.0 L501.2 465.7 L502.0 465.1 L502.8 465.8 L503.5 464.0 L504.2 464.5 L505.0 463.9 L505.8 462.5 L506.5 463.4 L507.2 463.1 L508.0 462.2 L508.8 461.9 L509.5 461.6 L510.2 460.0 L511.0 460.3 L511.8 459.8 L512.5 459.9 L513.2 459.4 L514.0 459.0 L514.8 458.2 L515.5 458.3 L516.2 457.5 L517.0 457.1 L517.8 455.9 L518.5 455.1 L519.2 454.8 L520.0 454.8 L520.8 453.9 L521.5 454.7 L522.2 453.8 L523.0 453.5 L523.8 453.1 L524.5 452.7 L525.2 452.0 L526.0 450.7 L526.8 451.6 L527.5 451.1 L528.2 450.3 L529.0 449.9 L529.8 449.7 L530.5 448.2 L531.2 448.9 L532.0 447.7 L532.8 446.9 L533.5 446.8 L534.2 447.2 L535.0 445.9 L535.8 446.3 L536.5 446.3 L537.2 445.1 L538.0 444.4 L538.8 444.2 L539.5 444.1 L540.2 443.8 L541.0 443.1 L541.8 442.7 L542.5 441.3 L543.2 441.0 L544.0 440.8 L544.8 441.2 L545.5 440.0 L546.2 440.0 L547.0 438.6 L547.8 438.3 L548.5 438.2 L549.2 438.5 L550.0 438.1 L550.8 437.6 L551.5 436.5 L552.2 436.5 L553.0 436.0 L553.8 435.5 L554.5 434.5 L555.2 435.4 L556.0 433.8 L556.8 434.7 L557.5 434.2 L558.3 432.2 L559.0 432.5 L559.8 432.7 L560.5 432.5 L561.3 431.2 L562.0 430.5 L562.8 429.9" fill="none" stroke="#0000ff" stroke-width="2.7" stroke-linejoin="round"/>
<text x="133.80" y="736.20" font-family='"Liberation Sans", sans-serif' font-size="25.3" font-weight="bold" font-style="normal" text-anchor="middle" fill="#000" stroke="#000" >0</text>
<text x="208.71" y="736.20" font-family='"Liberation Sans", sans-serif' font-size="25.3" font-weight="bold" font-style="normal" text-anchor="middle" fill="#000" stroke="#000" >50</text>
<text x="283.63" y="736.20" font-family='"Liberation Sans", sans-serif' font-size="25.3" font-weight="bold" font-style="normal" text-anchor="middle" fill="#000" stroke="#000" >100</text>
<text x="358.55" y="736.20" font-family='"Liberation Sans", sans-serif' font-size="25.3" font-weight="bold" font-style="normal" text-anchor="middle" fill="#000" stroke="#000" >150</text>
<text x="433.46" y="736.20" font-family='"Liberation Sans", sans-serif' font-size="25.3" font-weight="bold" font-style="normal" text-anchor="middle" fill="#000" stroke="#000" >200</text>
<text x="508.38" y="736.20" font-family='"Liberation Sans", sans-serif' font-size="25.3" font-weight="bold" font-style="normal" text-anchor="middle" fill="#000" stroke="#000" >250</text>
<text x="583.29" y="736.20" font-family='"Liberation Sans", sans-serif' font-size="25.3" font-weight="bold" font-style="normal" text-anchor="middle" fill="#000" stroke="#000" >300</text>
<text x="125.60" y="716.70" font-family='"Liberation Sans", sans-serif' font-size="25.3" font-weight="bold" font-style="normal" text-anchor="end" fill="#000" stroke="#000" >0.0</text>
<text x="125.60" y="652.30" font-family='"Liberation Sans", sans-serif' font-size="25.3" font-weight="bold" font-style="normal" text-anchor="end" fill="#000" stroke="#000" >0.2</text>
<text x="125.60" y="587.90" font-family='"Liberation Sans", sans-serif' font-size="25.3" font-weight="bold" font-style="normal" text-anchor="end" fill="#000" stroke="#000" >0.4</text>
<text x="125.60" y="523.50" font-family='"Liberation Sans", sans-serif' font-size="25.3" font-weight="bold" font-style="normal" text-anchor="end" fill="#000" stroke="#000" >0.6</text>
<text x="125.60" y="459.10" font-family='"Liberation Sans", sans-serif' font-size="25.3" font-weight="bold" font-style="normal" text-anchor="end" fill="#000" stroke="#000" >0.8</text>
<text x="125.60" y="394.70" font-family='"Liberation Sans", sans-serif' font-size="25.3" font-weight="bold" font-style="normal" text-anchor="end" fill="#000" stroke="#000" >1.0</text>
<text x="590.80" y="717.50" font-family='"Liberation Sans", sans-serif' font-size="25.3" font-weight="bold" font-style="normal" text-anchor="start" fill="#000" stroke="#000" >0.0</text>
<text x="590.80" y="649.50" font-family='"Liberation Sans", sans-serif' font-size="25.3" font-weight="bold" font-style="normal" text-anchor="start" fill="#000" stroke="#000" >0.5</text>
<text x="590.80" y="581.50" font-family='"Liberation Sans", sans-serif' font-size="25.3" font-weight="bold" font-style="normal" text-anchor="start" fill="#000" stroke="#000" >1.0</text>
<text x="590.80" y="513.50" font-family='"Liberation Sans", sans-serif' font-size="25.3" font-weight="bold" font-style="normal" text-anchor="start" fill="#000" stroke="#000" >1.5</text>
<text x="590.80" y="445.50" font-family='"Liberation Sans", sans-serif' font-size="25.3" font-weight="bold" font-style="normal" text-anchor="start" fill="#000" stroke="#000" >2.0</text>
<text x="6.00" y="390.60" font-family='"Liberation Sans", sans-serif' font-size="24.2" font-weight="bold" font-style="normal" text-anchor="start" fill="#000" stroke="#000" >B</text>
<text x="476.00" y="431.10" font-family='"Liberation Sans", sans-serif' font-size="19.1" font-weight="bold" font-style="normal" text-anchor="start" fill="#0000ff" stroke="#0000ff" >LNSCO</text>
<text x="479.00" y="529.20" font-family='"Liberation Sans", sans-serif' font-size="19.1" font-weight="bold" font-style="normal" text-anchor="start" fill="#ff0000" stroke="#ff0000" >LESCO</text>
<text x="323.30" y="778.10" font-family='"Liberation Sans", sans-serif' font-size="24.0" font-weight="bold" font-style="normal" text-anchor="start" fill="#000" stroke="#000" >T (K)</text>
<g transform="translate(56.8,620.6) rotate(-90)"><text x="0" y="0" transform="scale(1.13,1)" font-weight="normal" font-size="22.2" fill="#000" stroke="#000" style="stroke-width:0.5px">ρ</text><text x="12.8" y="8.6" font-size="15.5" font-weight="bold" fill="#000" stroke="#000">ab</text><text x="37.4" y="0" font-size="24.2" font-weight="bold" fill="#000" stroke="#000">(m<tspan font-weight="normal" font-size="25.6" style="stroke-width:0.7px">Ω</tspan><tspan dx="0.8"> cm)</tspan></text></g>
<g transform="translate(656.3,500.2) rotate(90)"><text x="0" y="0" font-size="25.6" font-weight="bold" font-style="italic" fill="#000" stroke="#000">R</text><rect x="19.6" y="-1.5" width="8.7" height="9.2" fill="none" stroke="#000" stroke-width="1.45"/><text x="0" y="0" transform="translate(29.6,7.7) scale(1.1,1)" font-size="14.4" font-weight="bold" font-style="italic" fill="#000" stroke="#000" style="stroke-width:0.4px">/layer</text><text x="76.8" y="0" font-size="25.3" font-weight="bold" fill="#000" stroke="#000">(h/4e<tspan font-size="15.5" dy="-11.9">2</tspan><tspan dy="11.9">)</tspan></text></g>
</g>
</svg></body></html>
